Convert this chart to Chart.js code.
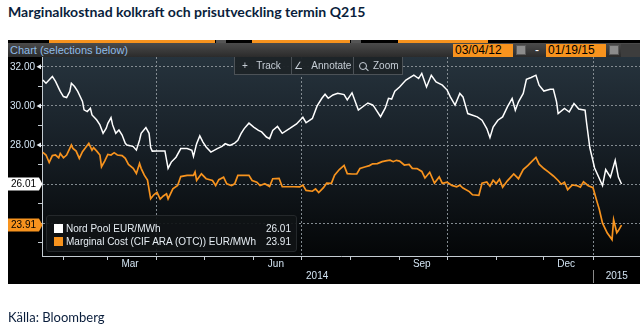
<!DOCTYPE html>
<html><head><meta charset="utf-8">
<script src="https://cdn.jsdelivr.net/npm/chart.js@4.4.1/dist/chart.umd.min.js"></script>
<style>
html,body{margin:0;padding:0;background:#fff;width:640px;height:335px;overflow:hidden;}
body{position:relative;}
.abs{position:absolute;}
#title{left:8px;top:4px;font:bold 13px Lato,sans-serif;color:#0a1e3c;white-space:nowrap;transform-origin:0 0;}
#src{left:8px;top:309px;font:13px Lato,sans-serif;color:#0a1e3c;white-space:nowrap;}
#panel{left:8px;top:40px;width:632px;height:244px;background:#000;}
.strip{top:40px;height:3px;}
#hdr{left:8px;top:43px;width:632px;height:14px;background:linear-gradient(#4b4b4b,#2b2b2b);}
.nf{font-family:"Liberation Sans",Arial,sans-serif;}
#hdrtxt{left:10px;top:43px;font-size:11px;line-height:14px;color:#8dbbe8;white-space:nowrap;}
.date{top:44px;height:13px;width:60px;background:#f7931e;color:#000;font-size:12px;line-height:13px;padding-left:2px;box-sizing:border-box;}
.cal{top:45px;width:10px;height:10px;background:#8c8c8c;border:1px solid #5a5a5a;box-sizing:border-box;}
#dash{left:535px;top:43px;color:#fff;font-size:12px;line-height:14px;}
#tail{left:621px;top:44px;width:19px;height:13px;background:#3d3d3d;}
canvas{position:absolute;left:0;top:0;}
#tool{left:234px;top:57px;width:169px;height:18px;background:rgba(29,35,40,0.96);border:1px solid #4c5257;border-top:none;box-sizing:border-box;}
.tsep{top:57px;width:1px;height:18px;background:#4c5257;}
.ttxt{top:58px;font-size:10px;line-height:16px;color:#c6ced6;white-space:nowrap;}
#legend{left:46px;top:215px;width:251px;height:37px;background:rgba(16,19,22,0.93);border:1px solid #24282b;border-radius:3px;box-sizing:border-box;}
.lrow{left:6px;width:238px;height:12px;font-size:10px;line-height:12px;color:#e6edf3;white-space:nowrap;}
.sq{position:absolute;left:1px;top:1px;width:9px;height:9px;}
.lt{position:absolute;left:13px;top:0;}
.lv{position:absolute;right:0;top:0;}
</style></head>
<body>
<div id="title" class="abs">Marginalkostnad kolkraft och prisutveckling termin Q215</div>
<div id="panel" class="abs"></div>
<div class="abs strip" style="left:49px;width:166px;background:#f7931e"></div>
<div class="abs strip" style="left:216px;width:10px;background:#555"></div>
<div class="abs strip" style="left:252px;width:98px;background:#f7931e"></div>
<div class="abs strip" style="left:351px;width:10px;background:#555"></div>
<div class="abs strip" style="left:398px;width:90px;background:#f7931e"></div>
<div id="hdr" class="abs"></div>
<div id="hdrtxt" class="abs nf">Chart (selections below)</div>
<div class="abs date nf" style="left:453px">03/04/12</div>
<div class="abs cal" style="left:516px"></div>
<div id="dash" class="abs nf">-</div>
<div class="abs date nf" style="left:546px">01/19/15</div>
<div class="abs cal" style="left:609px"></div>
<div id="tail" class="abs"></div>
<canvas id="c" width="640" height="335"></canvas>
<div id="tool" class="abs"></div>
<div class="abs tsep" style="left:291px"></div>
<div class="abs tsep" style="left:353px"></div>
<div class="abs ttxt nf" style="left:242px">+&nbsp;&nbsp;&nbsp;Track</div>
<div class="abs ttxt nf" style="left:294px">&#8736;&nbsp;&nbsp;&nbsp;Annotate</div>
<div class="abs" style="left:359px;top:62px;width:6px;height:6px;border:1px solid #c6ced6;border-radius:50%"></div>
<div class="abs" style="left:365px;top:69px;width:4px;height:1px;background:#c6ced6;transform:rotate(45deg)"></div>
<div class="abs ttxt nf" style="left:373px">Zoom</div>
<div id="legend" class="abs">
  <div class="abs lrow nf" style="top:7px"><span class="sq" style="background:#fff"></span><span class="lt" id="l1"></span><span class="lv" id="v1"></span></div>
  <div class="abs lrow nf" style="top:20px"><span class="sq" style="background:#f7931e"></span><span class="lt" id="l2"></span><span class="lv" id="v2"></span></div>
</div>
<div id="src" class="abs">Källa: Bloomberg</div>
<script>
// ---- data (days since 2014-01-01) ----
const npDays = [
 18,20,24,26,28,29,31,33,35,36,
 38,40,43,44,46,48,49,51,52,54,
 56,58,59,61,62,64,66,68,70,71,
 73,75,77,79,80,83,85,86,87,90,
 93,95,97,99,102,105,109,112,113,115,
 117,119,121,124,128,131,133,136,139,141,
 143,145,148,151,154,156,159,161,163,166,
 169,174,178,182,184,188,191,194,196,198,
 201,204,208,210,213,217,220,223,226,227,
 231,234,236,238,240,243,247,252,255,257,
 260,263,266,270,273,275,278,281,283,286,
 292,295,298,300,302,305,308,311,314,316,
 318,321,323,326,329,331,334,338,340,342,
 343,347,350,353,356,360,361,363,366,371,
 373,376,379,381,383];
const npValues = [
 31.33,31.16,31.51,31.25,30.91,30.74,30.48,30.43,30.74,31.16,
 30.99,30.74,30.23,29.80,29.71,29.88,29.54,29.37,29.28,29.03,
 28.60,28.86,29.11,29.40,29.03,28.60,28.77,28.51,28.09,28.00,
 27.97,27.92,27.74,28.26,28.60,28.89,28.60,27.87,27.69,27.70,
 27.70,27.70,26.81,27.13,27.38,27.82,27.82,27.73,27.42,28.07,
 28.47,28.15,27.90,27.64,27.82,27.93,28.07,27.98,28.10,28.24,
 28.58,28.84,29.12,28.92,28.75,28.67,28.41,28.33,28.75,28.95,
 28.60,28.86,29.08,29.42,29.14,29.36,30.00,30.39,30.60,30.39,
 30.56,30.65,30.58,30.31,30.67,29.79,29.97,30.15,30.05,29.95,
 29.45,29.90,30.39,30.35,30.75,30.97,31.32,31.57,31.40,31.66,
 30.97,31.57,31.23,31.06,30.81,30.46,30.04,30.64,30.46,29.61,
 29.44,29.27,28.84,28.38,28.92,29.27,29.44,29.95,30.38,29.78,
 30.21,30.64,31.36,31.45,31.57,31.06,30.76,30.85,30.85,30.21,
 29.61,29.87,29.69,30.12,29.84,29.78,29.10,27.86,26.83,25.93,
 26.75,26.36,27.22,26.36,26.01];
const mcDays = [
 18,20,22,24,26,28,29,31,33,36,
 37,39,41,43,45,47,49,50,52,54,
 55,57,59,61,63,65,68,70,72,75,
 77,79,80,82,84,86,88,90,92,94,
 96,97,100,103,105,109,113,114,115,118,
 121,125,127,129,132,134,137,139,141,148,
 150,153,155,158,161,163,167,169,172,176,
 180,182,184,188,190,192,195,197,200,202,
 205,208,210,213,216,218,221,224,226,229,
 232,235,237,239,241,243,246,249,251,254,
 257,259,262,265,268,270,273,276,279,281,
 283,287,289,293,295,298,300,302,304,306,
 308,311,315,318,321,324,326,329,331,334,
 337,340,343,345,347,349,352,355,357,359,
 362,365,367,369,371,374,377,378,380,381,
 383];
const mcValues = [
 27.63,27.49,27.11,27.46,27.49,27.35,27.57,27.35,27.49,28.00,
 27.83,27.69,27.32,27.66,27.87,28.09,27.74,27.87,27.69,27.49,
 26.89,27.18,27.52,27.49,27.61,27.49,27.46,27.32,27.01,26.81,
 26.55,27.06,26.81,26.46,26.21,25.26,25.46,25.58,25.24,25.40,
 25.51,25.25,25.76,25.93,26.39,26.45,26.45,26.62,26.19,26.53,
 26.28,26.19,25.93,26.23,26.36,26.02,25.93,26.02,26.45,26.45,
 26.19,26.10,25.93,26.02,25.88,26.28,26.30,25.87,25.87,25.87,
 25.86,25.95,25.68,25.64,25.76,25.57,25.82,26.05,26.04,26.46,
 26.75,26.96,26.54,26.52,26.53,26.80,26.88,26.95,27.04,27.05,
 27.15,27.20,27.23,27.15,27.22,27.18,26.98,27.01,26.81,26.80,
 26.65,26.32,26.61,26.06,26.37,26.04,26.10,25.94,25.87,25.95,
 25.80,25.62,25.46,25.43,26.05,26.11,25.90,26.20,26.03,26.25,
 25.84,26.17,26.52,26.28,26.75,26.96,27.13,27.37,27.02,26.80,
 26.62,26.42,26.19,26.00,26.10,25.72,25.96,25.92,25.85,26.12,
 25.92,25.82,25.25,24.70,24.01,23.50,23.17,24.18,23.52,23.63,
 23.91];
const seriesNames = ['Nord Pool EUR/MWh', 'Marginal Cost (CIF ARA (OTC)) EUR/MWh'];
const monthStartDays = [31,59,90,120,151,181,212,243,273,304,334,365];
const quarterDays = [90,181,273,365];
const monthLabelDays = [73,165,257,348];
const monthLabels = ['Mar','Jun','Sep','Dec'];
const yearLabelDays = [191,380];
const yearLabels = ['2014','2015'];
const yearBreakDay = 365;
const yTickValues = [23,24,25,26,27,28,29,30,31,32];
const yLabelValues = [28,30,32];

const FONT = '"Liberation Sans",Arial,sans-serif';
const WHITE = '#ffffff', ORANGE = '#f7931e';

// title fit
(function(){const t=document.getElementById('title');const w=t.offsetWidth;t.style.transform='scaleX('+(358/w)+')';})();

const lastNP = npValues[npValues.length-1], lastMC = mcValues[mcValues.length-1];
document.getElementById('l1').textContent = seriesNames[0];
document.getElementById('l2').textContent = seriesNames[1];
document.getElementById('v1').textContent = lastNP.toFixed(2);
document.getElementById('v2').textContent = lastMC.toFixed(2);

const deco = {
  id:'deco',
  beforeDraw(chart){
    const {ctx, chartArea:a} = chart;
    const g = ctx.createLinearGradient(0,a.top,0,a.bottom);
    g.addColorStop(0,'#26333d'); g.addColorStop(0.45,'#171f26'); g.addColorStop(1,'#040607');
    ctx.save(); ctx.fillStyle=g; ctx.fillRect(a.left,a.top,a.right-a.left,a.bottom-a.top); ctx.restore();
  },
  afterDraw(chart){
    const {ctx, scales:{x,y}} = chart;
    ctx.save();
    ctx.font = '10px '+FONT; ctx.fillStyle='#d2e3f2'; ctx.textAlign='center'; ctx.textBaseline='middle';
    monthLabelDays.forEach((d,i)=>ctx.fillText(monthLabels[i], x.getPixelForValue(d), 264));
    yearLabelDays.forEach((d,i)=>ctx.fillText(yearLabels[i], x.getPixelForValue(d), 276.5));
    const bx = Math.round(x.getPixelForValue(yearBreakDay))+0.5;
    ctx.strokeStyle='#8a8a8a'; ctx.lineWidth=1; ctx.beginPath(); ctx.moveTo(bx,270); ctx.lineTo(bx,283); ctx.stroke();
    // small pointer triangles at labelled y ticks
    ctx.fillStyle='#e8eef4';
    yLabelValues.forEach(v=>{const py=y.getPixelForValue(v);ctx.beginPath();ctx.moveTo(36.5,py);ctx.lineTo(41,py-2.5);ctx.lineTo(41,py+2.5);ctx.closePath();ctx.fill();});
    // last-value boxes
    [[lastNP,'#ffffff'],[lastMC,ORANGE]].forEach(([v,col])=>{
      const py=Math.round(y.getPixelForValue(v));
      ctx.fillStyle=col; ctx.beginPath();
      ctx.moveTo(8,py-6.5); ctx.lineTo(39,py-6.5); ctx.lineTo(42.5,py); ctx.lineTo(39,py+6.5); ctx.lineTo(8,py+6.5); ctx.closePath(); ctx.fill();
      ctx.fillStyle='#000'; ctx.textAlign='right'; ctx.font='10px '+FONT; ctx.fillText(v.toFixed(2),36,py+0.5);
    });
    ctx.restore();
  }
};

new Chart(document.getElementById('c'), {
  type:'line',
  data:{datasets:[
    {label:seriesNames[0], data:npDays.map((d,i)=>({x:d,y:npValues[i]})), borderColor:WHITE, borderWidth:1.5, pointRadius:0, tension:0},
    {label:seriesNames[1], data:mcDays.map((d,i)=>({x:d,y:mcValues[i]})), borderColor:ORANGE, borderWidth:1.7, pointRadius:0, tension:0}
  ]},
  options:{
    responsive:false, animation:false, devicePixelRatio:1,
    layout:{padding:{left:8,top:57,right:0,bottom:51}},
    plugins:{legend:{display:false},tooltip:{enabled:false}},
    scales:{
      x:{type:'linear', min:17.47, max:394.64,
        afterBuildTicks:s=>{s.ticks=monthStartDays.map(v=>({value:v}));},
        afterFit:s=>{s.height=28;},
        ticks:{display:false,autoSkip:false},
        grid:{color:c=>(c.tick&&quarterDays.includes(c.tick.value))?'#838b91':'rgba(0,0,0,0)', lineWidth:1, tickLength:4, tickColor:'#c4ccd2', drawTicks:true},
        border:{display:true,color:'#c4ccd2',width:1,dash:[2,2]}
      },
      y:{min:22.33, max:32.5,
        afterBuildTicks:s=>{s.ticks=yTickValues.map(v=>({value:v}));},
        afterFit:s=>{s.width=34;},
        ticks:{autoSkip:false,padding:3,color:'#d2e3f2',font:{family:FONT,size:10},callback:v=>yLabelValues.includes(v)?v.toFixed(2):''},
        grid:{color:c=>(c.tick&&c.tick.value%2===0)?'#838b91':'rgba(0,0,0,0)', lineWidth:1, tickLength:4, tickColor:'#c4ccd2', drawTicks:true},
        border:{display:true,color:'#c4ccd2',width:1,dash:[2,2]}
      }
    }
  },
  plugins:[deco]
});
</script>
</body></html>
